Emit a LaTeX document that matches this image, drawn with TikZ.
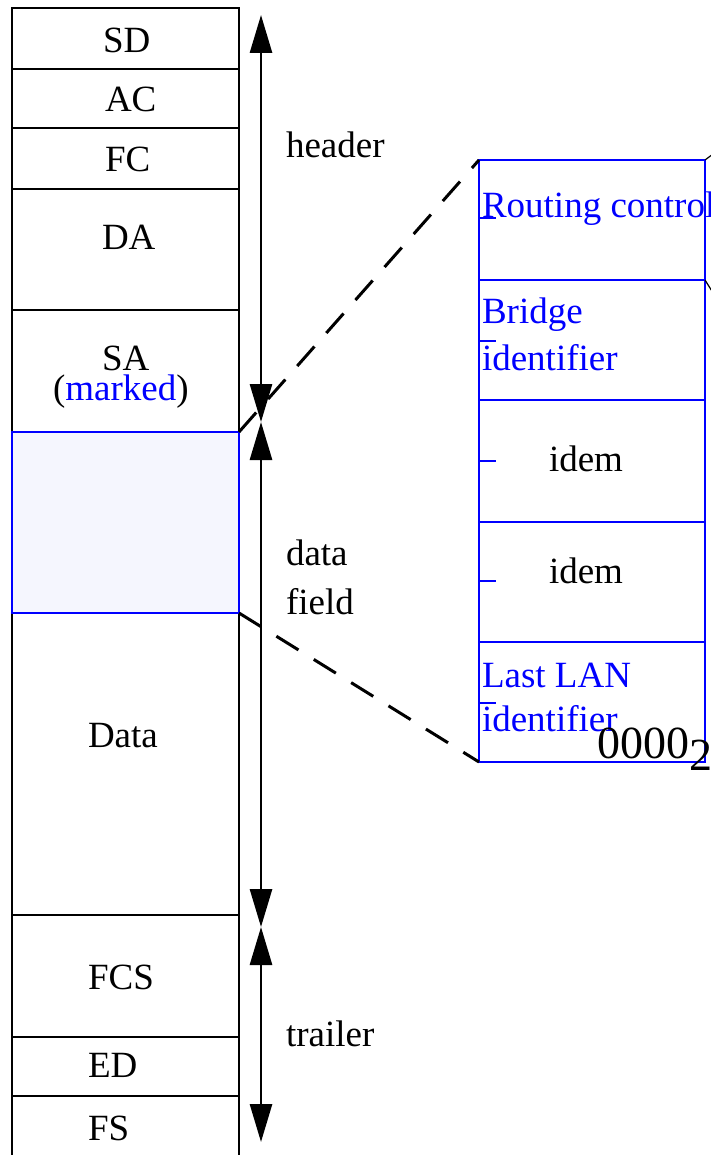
\documentclass[tikz,border=0pt]{standalone}
\usepackage{fontspec}
\setmainfont{Liberation Serif}
\usetikzlibrary{arrows.meta}
\definecolor{fieldblue}{RGB}{0,0,255}
\definecolor{fieldfill}{RGB}{245,246,254}

\begin{document}
\begin{tikzpicture}[x=1pt,y=-1pt,
  every node/.style={inner sep=0pt, outer sep=0pt, font=\fontsize{37}{31}\selectfont},
  fieldbox/.style={draw=black, line width=2.6pt, rectangle, minimum width=227pt, anchor=north west},
  markedbox/.style={draw=fieldblue, fill=fieldfill, line width=2.4pt, rectangle, minimum width=227pt, anchor=north west},
  routebox/.style={draw=fieldblue, line width=2.4pt, rectangle, minimum width=226pt, anchor=north west},
  lbl/.style={anchor=base west, text=black},
  bluelbl/.style={anchor=base west, text=fieldblue},
  spanarrow/.style={line width=2.8pt, {Triangle[length=38pt,width=22pt]}-{Triangle[length=38pt,width=22pt]}},
  zoomline/.style={line width=3pt, dash pattern=on 26pt off 18pt},
  zoomthin/.style={line width=1.2pt},
  tickmark/.style={draw=fieldblue, line width=2.2pt}
]
\useasboundingbox (0,0) rectangle (711,1155);

% frame fields
\node[fieldbox, minimum height=61pt]  (sd)   at (12,8)    {};
\node[fieldbox, minimum height=59pt]  (ac)   at (12,69)   {};
\node[fieldbox, minimum height=61pt]  (fc)   at (12,128)  {};
\node[fieldbox, minimum height=121pt] (da)   at (12,189)  {};
\node[fieldbox, minimum height=122pt] (sa)   at (12,310)  {};
\node[fieldbox, minimum height=302pt] (data) at (12,613)  {};
\node[fieldbox, minimum height=122pt] (fcs)  at (12,915)  {};
\node[fieldbox, minimum height=59pt]  (ed)   at (12,1037) {};
\node[fieldbox, minimum height=90pt]  (fs)   at (12,1096) {};
\node[markedbox, minimum height=181pt] (rif) at (12,432)  {};

% field names
\node[lbl] (tsd)   at (103,53)   {SD};
\node[lbl] (tac)   at (105,112)  {AC};
\node[lbl] (tfc)   at (105,172)  {FC};
\node[lbl] (tda)   at (102,250)  {DA};
\node[lbl] (tsa)   at (102,370)  {SA};
\node[lbl] (tmark) at (53,400)   {(\textcolor{fieldblue}{marked})};
\node[lbl] (tdata) at (88,747)   {Data};
\node[lbl] (tfcs)  at (88,989)   {FCS};
\node[lbl] (ted)   at (88,1077)  {ED};
\node[lbl] (tfs)   at (88,1140)  {FS};

% extents of header, data field and trailer
\coordinate (htop) at (261,15);
\coordinate (hbot) at (261,422);
\coordinate (dbot) at (261,927);
\coordinate (tbot) at (261,1142);
\draw[spanarrow] (htop) -- (hbot);
\draw[spanarrow] (hbot) -- (dbot);
\draw[spanarrow] (dbot) -- (tbot);

\node[lbl] (theader) at (286,158)  {header};
\node[lbl] (tdat)    at (286,565)  {data};
\node[lbl] (tfield)  at (286,614)  {field};
\node[lbl] (ttrail)  at (286,1046) {trailer};

% routing information field, expanded
\node[routebox, minimum height=120pt] (rc)  at (479,160) {};
\node[routebox, minimum height=120pt] (br)  at (479,280) {};
\node[routebox, minimum height=122pt] (id1) at (479,400) {};
\node[routebox, minimum height=120pt] (id2) at (479,522) {};
\node[routebox, minimum height=120pt] (ll)  at (479,642) {};

\draw[tickmark] (479,218) -- ++(17,0);
\draw[tickmark] (479,341) -- ++(17,0);
\draw[tickmark] (479,461) -- ++(17,0);
\draw[tickmark] (479,581) -- ++(17,0);
\draw[tickmark] (479,703) -- ++(17,0);

\node[bluelbl] (trc)  at (482,218) {Routing control};
\node[bluelbl] (tbr1) at (482,323) {Bridge};
\node[bluelbl] (tbr2) at (482,370) {identifier};
\node[lbl]     (tid1) at (549,471) {idem};
\node[lbl]     (tid2) at (549,583) {idem};
\node[bluelbl] (tll1) at (482,687) {Last LAN};
\node[bluelbl] (tll2) at (482,731) {identifier};
\node[lbl, font=\fontsize{46}{46}\selectfont] (tcode) at (597,758) {0000\raisebox{-12pt}{2}};

% zoom lines
\draw[zoomline] (rif.north east) -- (rc.north west);
\draw[zoomline] (rif.south east) -- (ll.south west);
\coordinate (rcout) at (721,148);
\coordinate (brout) at (715,296);
\draw[zoomthin] (rc.north east) -- (rcout);
\draw[zoomthin] (rc.south east) -- (brout);
\end{tikzpicture}
\end{document}
